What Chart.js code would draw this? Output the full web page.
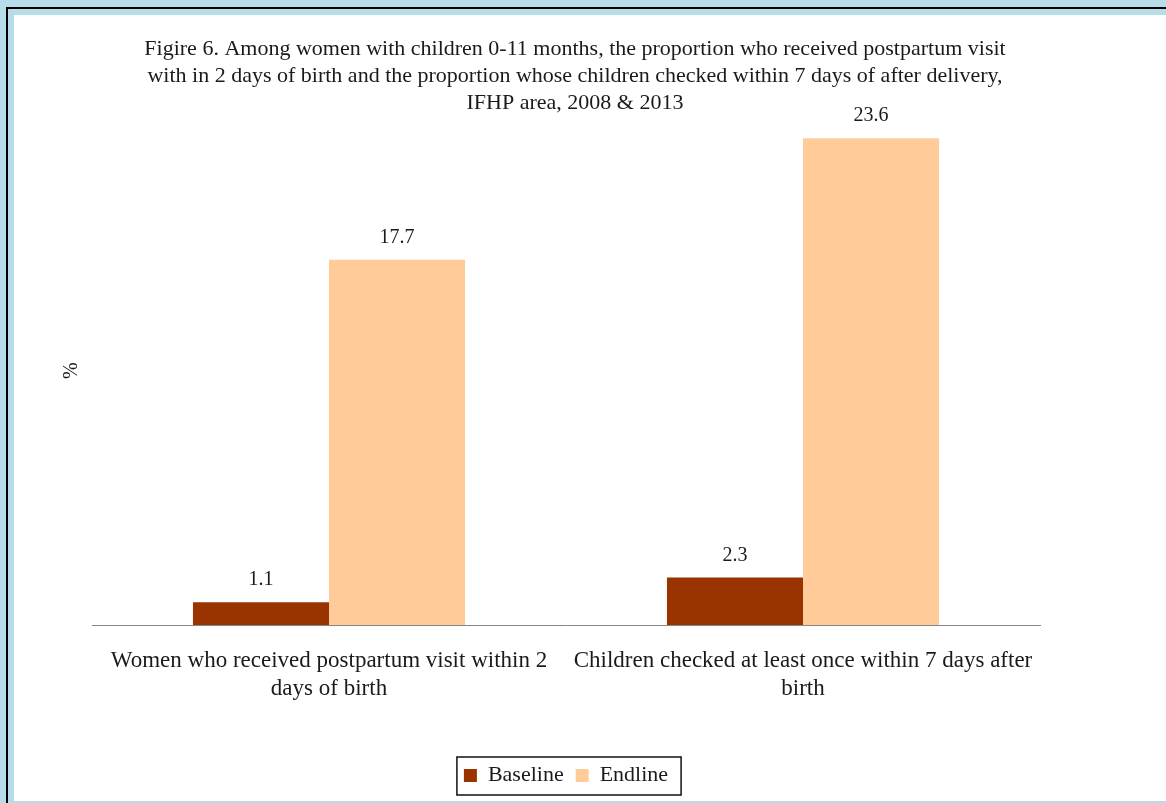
<!DOCTYPE html>
<html>
<head>
<meta charset="utf-8">
<script src="https://cdn.jsdelivr.net/npm/chart.js@4"></script>
<style>
  html, body { margin: 0; padding: 0; }
  body { width: 1166px; height: 803px; background: #b7dde8; position: relative; overflow: hidden; }
  .frame { position: absolute; left: 6px; top: 7px; right: 0; bottom: 0; border-left: 2px solid #000; border-top: 2px solid #000; }
  .panel { position: absolute; left: 14px; top: 15px; width: 1152px; height: 786px; background: #fff; }
</style>
</head>
<body>
<div class="frame"></div>
<div class="panel"><canvas id="chart"></canvas></div>
<script>
// Categories (multi-line axis labels) and series values
const categories = [
  ["Women who received postpartum visit within 2", "days of birth"],
  ["Children checked at least once within 7 days after", "birth"]
];
const baselineValues = [1.1, 2.3];
const endlineValues = [17.7, 23.6];
const seriesNames = ["Baseline", "Endline"];
const titleLines = [
  "Figire 6. Among women with children 0-11 months, the proportion who received postpartum visit",
  "with in 2 days of birth and the proportion whose children checked within 7 days of after delivery,",
  "IFHP area, 2008 & 2013"
];

const SERIF = "'Liberation Serif', 'Times New Roman', serif";

// Value labels above each bar
const valueLabels = {
  id: 'valueLabels',
  afterDatasetsDraw(chart) {
    const ctx = chart.ctx;
    ctx.save();
    ctx.font = "20px " + SERIF;
    ctx.fillStyle = '#1a1a1a';
    ctx.textAlign = 'center';
    ctx.textBaseline = 'alphabetic';
    chart.data.datasets.forEach((ds, i) => {
      chart.getDatasetMeta(i).data.forEach((bar, j) => {
        ctx.fillText(ds.data[j].toFixed(1), bar.x, bar.y - 17);
      });
    });
    ctx.restore();
  }
};

// Thin box around the legend entries
const legendFrame = {
  id: 'legendFrame',
  afterDraw(chart) {
    const lg = chart.legend;
    if (!lg || !lg.legendHitBoxes || !lg.legendHitBoxes.length) return;
    const hb = lg.legendHitBoxes;
    const first = hb[0], last = hb[hb.length - 1];
    const cy = first.top + first.height / 2;
    const x0 = first.left - 7;
    const x1 = last.left + last.width + 13;
    const ctx = chart.ctx;
    ctx.save();
    ctx.strokeStyle = '#111';
    ctx.lineWidth = 1.5;
    ctx.strokeRect(x0, cy - 18.5, x1 - x0, 38);
    ctx.restore();
  }
};

new Chart(document.getElementById('chart'), {
  type: 'bar',
  data: {
    labels: categories,
    datasets: [
      { label: seriesNames[0], data: baselineValues, backgroundColor: '#993300', categoryPercentage: 0.574, barPercentage: 1.0 },
      { label: seriesNames[1], data: endlineValues, backgroundColor: '#ffcc99', categoryPercentage: 0.574, barPercentage: 1.0 }
    ]
  },
  options: {
    responsive: true,
    maintainAspectRatio: false,
    animation: false,
    layout: { padding: { left: 0, right: 30, top: 0, bottom: 4.5 } },
    plugins: {
      title: {
        display: true,
        text: titleLines,
        color: '#1a1a1a',
        font: { family: SERIF, size: 22, weight: 'normal', lineHeight: 27 / 22 },
        padding: { top: 20.5, bottom: 0 }
      },
      legend: {
        position: 'bottom',
        fullSize: false,
        labels: {
          color: '#1a1a1a',
          font: { family: SERIF, size: 22 },
          boxWidth: 13,
          boxHeight: 13,
          padding: 12
        }
      },
      tooltip: { enabled: false }
    },
    scales: {
      x: {
        grid: { display: false, drawTicks: false },
        border: { display: true, color: '#878787', width: 1 },
        ticks: {
          color: '#1a1a1a',
          font: { family: SERIF, size: 23, lineHeight: 28 / 23 },
          padding: 22,
          maxRotation: 0,
          autoSkip: false
        },
        afterFit(scale) { scale.height = 127.5; }
      },
      y: {
        min: 0,
        max: 24.65,
        grid: { display: false, drawTicks: false },
        border: { display: false },
        ticks: { display: false },
        title: {
          display: true,
          text: '%',
          color: '#1a1a1a',
          font: { family: SERIF, size: 20, lineHeight: 1.2 },
          padding: { top: 46, bottom: 0 }
        },
        afterFit(scale) { scale.width = 78; }
      },
      yRight: {
        type: 'linear',
        position: 'right',
        display: true,
        grid: { display: false, drawTicks: false },
        border: { display: false },
        ticks: { display: false },
        afterFit(scale) { scale.width = 96; }
      }
    }
  },
  plugins: [valueLabels, legendFrame]
});
</script>
</body>
</html>
